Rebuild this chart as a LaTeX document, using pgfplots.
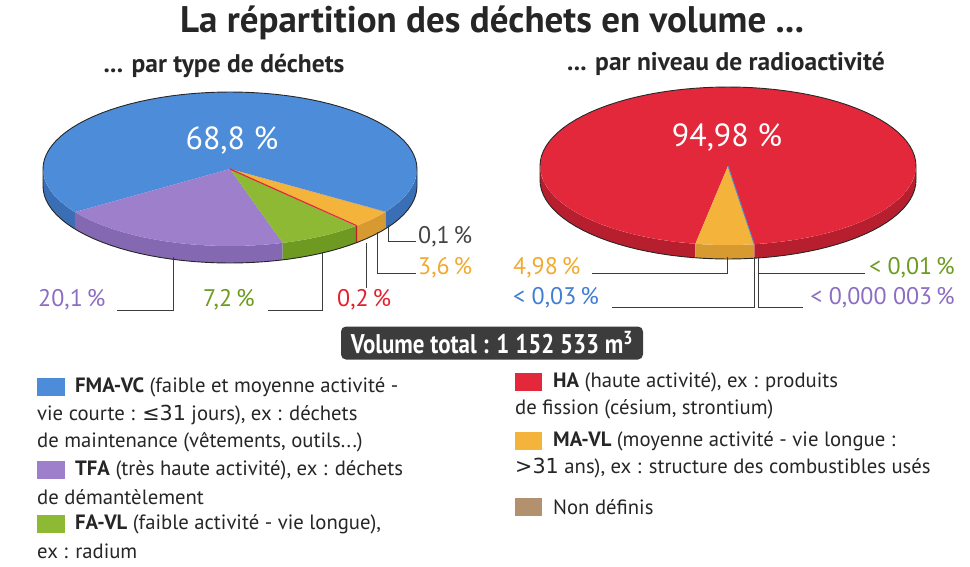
\documentclass[border=0pt]{standalone}
\usepackage{pgfplots}
\pgfplotsset{compat=1.18}
\usepackage{fontspec}
\setmainfont{PT Sans}
\newfontfamily\cond[FakeStretch=0.85]{PT Sans}
\newfontfamily\symf{DejaVu Sans}
\definecolor{cblue}{HTML}{4C8CD9}
\definecolor{cbluesd}{HTML}{3A6FB5}
\definecolor{cpurple}{HTML}{9D7FCB}
\definecolor{cpurplesd}{HTML}{8468B2}
\definecolor{cgreen}{HTML}{8DB934}
\definecolor{cgreensd}{HTML}{6E9A22}
\definecolor{cred}{HTML}{E2283A}
\definecolor{credsd}{HTML}{B81F2E}
\definecolor{corange}{HTML}{F4B43C}
\definecolor{corangesd}{HTML}{D69A30}
\definecolor{cbrown}{HTML}{B3916E}
\definecolor{cdark}{HTML}{3C3C3C}
\definecolor{tpurple}{HTML}{8B6DC2}
\definecolor{tgreen}{HTML}{6B9B1F}
\definecolor{tred}{HTML}{E3202D}
\definecolor{torange}{HTML}{F2A930}
\definecolor{tblue}{HTML}{3F7ED3}
\definecolor{tgrey}{HTML}{444444}
\definecolor{ltext}{HTML}{262626}

% slice top face: cx cy rx ry angle-start angle-end colour
\newcommand{\pieslice}[7]{%
 \addplot[fill=#7, draw=none, samples at={-1,0,0.02,...,1,1,2}, variable=\t]
  ({#1+(\t+1>0.5)*(\t<1.5)*#3*cos((#5)+max(0,min(1,\t))*((#6)-(#5)))},
   {#2-(\t+1>0.5)*(\t<1.5)*#4*sin((#5)+max(0,min(1,\t))*((#6)-(#5)))});
}
% slice side wall: cx cy rx ry a b depth colour
\newcommand{\pieside}[8]{%
 \addplot[fill=#8, draw=none, samples at={0,0.05,...,1,1,2,2.05,...,3,3}, variable=\t]
  ({#1+#3*cos((#5)+((#6)-(#5))*((\t<1.5)*\t+(\t>1.5)*(3-\t)))},
   {#2-#4*sin((#5)+((#6)-(#5))*((\t<1.5)*\t+(\t>1.5)*(3-\t)))+(\t>1.5)*#7});
}
% silhouette: cx cy rx ry depth
\newcommand{\pieoutline}[5]{%
 \addplot[draw=black!85, line width=0.9pt, samples at={0,0.02,...,1,1,2,2.02,...,3,3,4}, variable=\t]
  ({#1+#3*cos((\t<1.5)*180*\t+(\t>1.5)*(\t<3.5)*(180*(\t-1))+(\t>3.5)*360)},
   {#2-#4*sin((\t<1.5)*180*\t+(\t>1.5)*(\t<3.5)*(180*(\t-1))+(\t>3.5)*360)+(\t>1.5)*(\t<3.5)*#5});
}
\newcommand{\leg}[5]{% x1 y1 x2 y2 colour
 \addplot[fill=#5, draw=none] coordinates {(#1,#2) (#3,#2) (#3,#4) (#1,#4)} -- cycle;
}

\begin{document}
\begin{tikzpicture}
\begin{axis}[scale only axis, width=970pt, height=566pt,
  xmin=0, xmax=970, ymin=0, ymax=566, y dir=reverse,
  hide axis, clip=false]

% ---------- left pie: per type (percent) ----------
% TFA 20.1, FA-VL 7.2, HA 0.2, MA-VL 3.6, non defini 0.1, FMA-VC 68.8 ; start 214 deg
\def\LS{214}
\pieside{230}{169}{187}{77}{180}{\LS}{17}{cbluesd}
\pieside{230}{169}{187}{77}{\LS}{\LS+3.6*20.1}{17}{cpurplesd}
\pieside{230}{169}{187}{77}{\LS+3.6*20.1}{\LS+3.6*27.3}{17}{cgreensd}
\pieside{230}{169}{187}{77}{\LS+3.6*27.3}{\LS+3.6*27.5}{17}{credsd}
\pieside{230}{169}{187}{77}{\LS+3.6*27.5}{\LS+3.6*31.1}{17}{corangesd}
\pieside{230}{169}{187}{77}{\LS+3.6*31.1}{\LS+3.6*31.2}{17}{cbrown}
\pieside{230}{169}{187}{77}{\LS+3.6*31.2}{360}{17}{cbluesd}
\pieslice{230}{169}{187}{77}{\LS+3.6*31.2}{\LS+3.6*100}{cblue}
\pieslice{230}{169}{187}{77}{\LS}{\LS+3.6*20.1}{cpurple}
\pieslice{230}{169}{187}{77}{\LS+3.6*20.1}{\LS+3.6*27.3}{cgreen}
\pieslice{230}{169}{187}{77}{\LS+3.6*27.5}{\LS+3.6*31.1}{corange}
\pieslice{230}{169}{187}{77}{\LS+3.6*31.1}{\LS+3.6*31.2}{cbrown}
\addplot[draw=cred, line width=1.2pt, samples at={-1,0,1}, variable=\t]
  ({230+(\t+1>0.5)*187*cos(\LS+3.6*27.4)}, {169-(\t+1>0.5)*77*sin(\LS+3.6*27.4)});
\pieoutline{230}{169}{187}{77}{17}

% ---------- right pie: per activity level ----------
% MA-VL 4.98, FMA-VC 0.03, FA-VL 0.01, TFA 0.000003, HA 94.98 ; start 260 deg
\def\RS{260}
\pieside{728}{166}{188}{79}{180}{\RS}{14}{credsd}
\pieside{728}{166}{188}{79}{\RS}{\RS+3.6*4.98}{14}{corangesd}
\pieside{728}{166}{188}{79}{\RS+3.6*5.02}{360}{14}{credsd}
\pieslice{728}{166}{188}{79}{\RS+3.6*5.02}{\RS+3.6*100}{cred}
\pieslice{728}{166}{188}{79}{\RS}{\RS+3.6*4.98}{corange}
\addplot[draw=cblue, line width=0.9pt, samples at={-1,0,1}, variable=\t]
  ({728+(\t+1>0.5)*188*cos(\RS+3.6*5.0)}, {166-(\t+1>0.5)*79*sin(\RS+3.6*5.0)});
\pieoutline{728}{166}{188}{79}{14}

% ---------- leader lines ----------
\addplot[draw=cdark, line width=0.9pt] coordinates {(173,257) (173,310) (117,310)};
\addplot[draw=cdark, line width=0.9pt] coordinates {(322,252) (322,310) (268,310)};
\addplot[draw=cdark, line width=0.9pt] coordinates {(366,243) (366,288)};
\addplot[draw=cdark, line width=0.9pt] coordinates {(377,232) (377,273) (416,273)};
\addplot[draw=cdark, line width=0.9pt] coordinates {(388,225) (388,241) (416,241)};
\addplot[draw=cdark, line width=0.9pt] coordinates {(727,257) (727,273) (592,273)};
\addplot[draw=cdark, line width=0.9pt] coordinates {(754,257) (754,307) (612,307)};
\addplot[draw=cdark, line width=0.9pt] coordinates {(758,257) (758,307) (803,307)};
\addplot[draw=cdark, line width=0.9pt] coordinates {(758,257) (758,273) (865,273)};

% ---------- legend keys ----------
\leg{37}{378}{65}{396}{cblue}
\leg{37}{461}{65}{479}{cpurple}
\leg{37}{515}{65}{533}{cgreen}
\leg{515}{373}{542}{391}{cred}
\leg{515}{432}{542}{450}{corange}
\leg{515}{498}{542}{516}{cbrown}

% ---------- texts ----------
\node[font=\bfseries\fontsize{37}{42}\selectfont, text=ltext, inner sep=0] at (axis cs:492,23) {La répartition des déchets en volume ...};
\node[font=\bfseries\fontsize{25.5}{28}\selectfont, text=ltext, inner sep=0] at (axis cs:224,66) {... par type de déchets};
\node[font=\bfseries\fontsize{25.5}{28}\selectfont, text=ltext, inner sep=0] at (axis cs:726,64) {... par niveau de radioactivité};

\node[font=\fontsize{32}{36}\selectfont, text=white, inner sep=0] at (axis cs:232,140) {68,8 \%};
\node[font=\fontsize{32}{36}\selectfont, text=white, inner sep=0] at (axis cs:727,137) {94,98 \%};

\begin{scope}[every node/.style={font=\fontsize{24}{28}\selectfont, inner sep=0}]
\node[text=tpurple, anchor=west] at (axis cs:38,300) {20,1\,\%};
\node[text=tgreen, anchor=west] at (axis cs:203,300) {7,2\,\%};
\node[text=tred, anchor=west] at (axis cs:337,300) {0,2\,\%};
\node[text=tgrey, anchor=west] at (axis cs:418,237) {0,1\,\%};
\node[text=torange, anchor=west] at (axis cs:418,268) {3,6\,\%};
\node[text=torange, anchor=west] at (axis cs:513,268) {4,98\,\%};
\node[text=tblue, anchor=west] at (axis cs:513,298) {< 0,03\,\%};
\node[text=tgreen, anchor=east] at (axis cs:955,268) {< 0,01\,\%};
\node[text=tpurple, anchor=east] at (axis cs:955,298) {< 0,000 003\,\%};
\end{scope}

\node[fill=cdark, rounded corners=5pt, minimum width=302pt, minimum height=33pt, inner sep=0,
  text=white, font=\cond\bfseries\fontsize{27}{30}\selectfont] at (axis cs:492,343) {Volume total : 1 152 533 m\textsuperscript{3}};

\begin{scope}[every node/.style={font=\fontsize{20.7}{24}\selectfont, text=ltext, anchor=west, inner sep=0}]
\node at (axis cs:75,387) {\textbf{FMA-VC} (faible et moyenne activité -};
\node at (axis cs:37,415) {vie courte : {\symf ≤31} jours), ex : déchets};
\node at (axis cs:37,442) {de maintenance (vêtements, outils...)};
\node at (axis cs:75,470) {\textbf{TFA} (très haute activité), ex : déchets};
\node at (axis cs:37,497) {de démantèlement};
\node at (axis cs:75,524) {\textbf{FA-VL} (faible activité - vie longue),};
\node at (axis cs:37,551) {ex : radium};
\node at (axis cs:553,382) {\textbf{HA} (haute activité), ex : produits};
\node at (axis cs:515,409) {de fission (césium, strontium)};
\node at (axis cs:553,441) {\textbf{MA-VL} (moyenne activité - vie longue :};
\node at (axis cs:515,468) {{\symf >31} ans), ex : structure des combustibles usés};
\node at (axis cs:553,507) {Non définis};
\end{scope}
\end{axis}
\pgfresetboundingbox
\path (current axis.south west) rectangle (current axis.north east);
\end{tikzpicture}
\end{document}
